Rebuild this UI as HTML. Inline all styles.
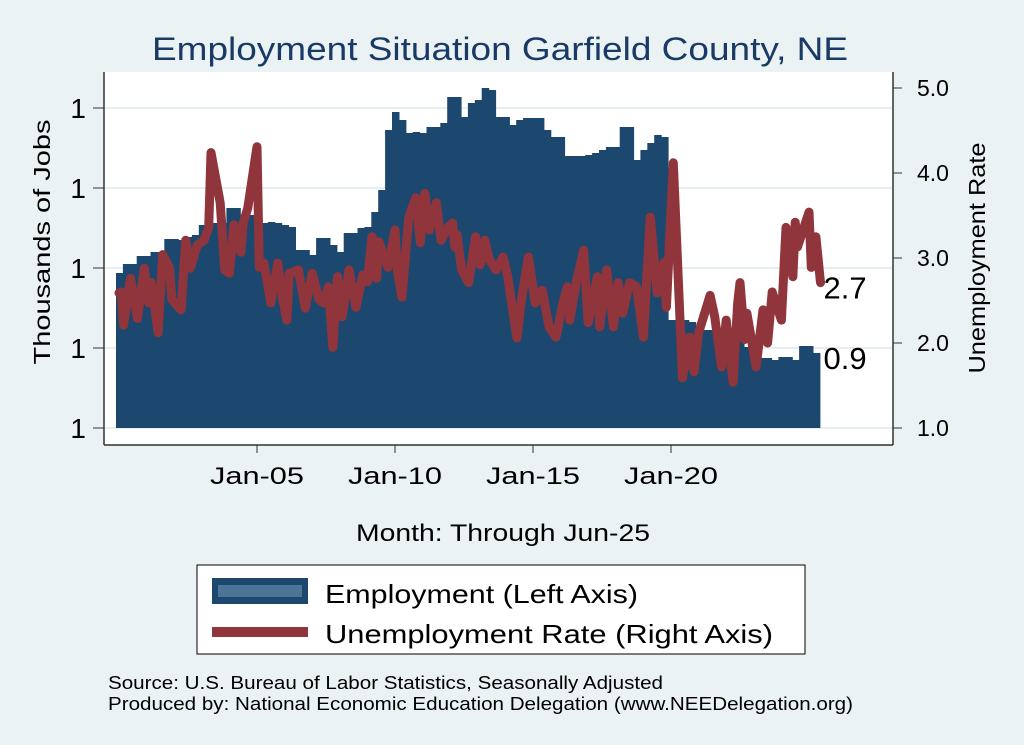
<!DOCTYPE html>
<html><head><meta charset="utf-8"><style>
html,body{margin:0;padding:0;background:#eaf2f3;}
svg{display:block;font-family:"Liberation Sans",Arial,sans-serif;}
</style></head><body>
<svg id="chart" width="1024" height="745" viewBox="0 0 1024 745">
<rect x="0" y="0" width="1024" height="745" fill="#eaf2f3"/>
<rect x="104" y="72" width="789" height="373" fill="#ffffff"/>
<text x="152" y="60" font-size="32" textLength="696" lengthAdjust="spacingAndGlyphs" fill="#1a3a66">Employment Situation Garfield  County, NE</text>
<g id="grid"></g>
<g id="bars"></g>
<g id="line"></g>
<g id="axes"></g>
<text x="50" y="242" text-anchor="middle" font-size="23" textLength="245" lengthAdjust="spacingAndGlyphs" transform="rotate(-90 50 242)" fill="#000">Thousands of Jobs</text>
<text x="985" y="258" text-anchor="middle" font-size="23" textLength="231" lengthAdjust="spacingAndGlyphs" transform="rotate(-90 985 258)" fill="#000">Unemployment Rate</text>
<text x="356" y="541" font-size="24" textLength="294" lengthAdjust="spacingAndGlyphs" fill="#000">Month: Through Jun-25</text>
<g>
<rect x="197" y="565" width="608" height="89" fill="#fff" stroke="#000" stroke-width="1"/>
<g>
<rect x="212" y="578" width="96" height="26" fill="#1c4870"/>
<rect x="218" y="585" width="84" height="12" fill="#4d7396"/>
<text x="325" y="603" font-size="26" textLength="313" lengthAdjust="spacingAndGlyphs" fill="#000">Employment (Left Axis)</text>
</g>
<g>
<rect x="212" y="627" width="96" height="10" fill="#90353b"/>
<text x="325" y="643" font-size="26" textLength="448" lengthAdjust="spacingAndGlyphs" fill="#000">Unemployment Rate (Right Axis)</text>
</g>
</g>
<text x="108" y="689" font-size="18" textLength="555" lengthAdjust="spacingAndGlyphs" fill="#000">Source: U.S. Bureau of Labor Statistics, Seasonally Adjusted</text>
<text x="108" y="710" font-size="18" textLength="745" lengthAdjust="spacingAndGlyphs" fill="#000">Produced by: National Economic Education Delegation (www.NEEDelegation.org)</text>
</svg>
<script>
// Employment (thousands), quarterly from 2000Q1 through 2025Q2
const empValues = [0.975,0.984,0.984,0.992,0.992,0.996,0.996,1.009,1.009,1.008,1.011,1.013,1.023,1.023,1.025,1.025,1.040,1.040,1.033,1.033,1.038,1.025,1.026,1.025,1.023,1.021,0.998,0.998,0.993,1.010,1.010,1.003,0.996,1.015,1.015,1.020,1.021,1.036,1.058,1.118,1.136,1.128,1.115,1.116,1.115,1.121,1.121,1.125,1.151,1.151,1.131,1.145,1.148,1.160,1.158,1.131,1.131,1.123,1.128,1.130,1.130,1.130,1.118,1.111,1.111,1.092,1.092,1.092,1.093,1.095,1.098,1.101,1.101,1.121,1.121,1.088,1.098,1.105,1.113,1.111,0.928,0.928,0.928,0.926,0.921,0.918,0.918,0.911,0.911,0.911,0.911,0.901,0.901,0.890,0.890,0.888,0.891,0.891,0.888,0.902,0.902,0.895];
// Unemployment rate: month index (0 = Jan 2000) and value
const urMonths = [0,1,2,5,8,9,11,13,14,17,19,22,23,27,29,31,34,37,39,40,44,46,48,50,53,54,56,60,61,63,66,69,71,73,74,78,81,84,87,89,91,93,95,97,100,103,106,108,110,112,113,117,120,121,123,126,129,131,133,135,138,140,143,145,146,147,149,152,155,157,159,161,164,167,169,173,175,178,181,184,187,190,193,195,196,199,202,204,208,209,212,215,217,219,222,225,228,231,234,237,238,241,245,248,250,252,257,259,262,264,267,269,270,272,273,277,280,282,284,288,290,293,294,295,300,301,303,305];
const urValues = [2.59,2.60,2.21,2.76,2.29,2.47,2.88,2.47,2.71,2.12,3.04,2.88,2.51,2.39,3.21,2.88,3.15,3.21,3.36,4.24,3.65,2.86,2.82,3.39,3.07,3.41,3.59,4.31,2.89,2.94,2.47,2.94,2.54,2.27,2.82,2.86,2.41,2.82,2.51,2.47,2.66,1.95,2.78,2.31,2.86,2.42,2.80,2.72,3.25,2.76,3.19,2.89,3.33,2.86,2.54,3.48,3.71,3.18,3.76,3.33,3.65,3.21,3.36,3.41,3.13,3.27,2.86,2.71,3.25,2.92,3.21,2.98,2.86,3.01,2.78,2.06,2.51,3.01,2.47,2.62,2.19,2.07,2.47,2.66,2.27,2.74,3.09,2.24,2.78,2.19,2.86,2.19,2.71,2.35,2.71,2.66,2.07,3.48,2.59,2.95,2.42,4.12,1.59,2.07,1.66,2.12,2.56,2.31,1.72,2.27,1.54,2.47,2.71,2.04,2.35,1.72,2.39,2.00,2.60,2.27,3.36,2.78,3.42,3.13,3.54,2.89,3.25,2.71];
const leftTicks = [0.82,0.90,0.98,1.06,1.14];
const rightTicks = [1.0,2.0,3.0,4.0,5.0];
const xTickMonths = [60,120,180,240];
const xTickLabels = ["Jan-05","Jan-10","Jan-15","Jan-20"];

const NS = "http://www.w3.org/2000/svg";
const X0 = 119, PX_PER_MONTH = 2.3;
const xScale = m => X0 + m * PX_PER_MONTH;
const yLeft = v => 428 - (v - 0.82) * 1000;
const yRight = v => 428 - (v - 1.0) * 85;
function mk(tag, attrs, parent){const e=document.createElementNS(NS,tag);for(const k in attrs)e.setAttribute(k,attrs[k]);parent.appendChild(e);return e;}

const grid = document.getElementById('grid');
const axes = document.getElementById('axes');
leftTicks.forEach(v => {
  const y = yLeft(v);
  const g = mk('line',{x1:104,x2:893,y1:y,y2:y,stroke:'#e6eef2','stroke-width':2},grid);
  
  
  const t = mk('line',{x1:93,x2:104,y1:y,y2:y,stroke:'#333','stroke-width':1},axes);
  
  
  const l = mk('text',{x:86,y:y+10,'text-anchor':'end','font-size':28,fill:'#000'},axes);
  l.textContent = v.toFixed(0);
  
  
});
rightTicks.forEach(v => {
  const y = yRight(v);
  const t = mk('line',{x1:893,x2:902,y1:y,y2:y,stroke:'#333','stroke-width':1},axes);
  
  
  const l = mk('text',{x:917,y:y+8,'font-size':23,fill:'#000'},axes);
  l.textContent = v.toFixed(1);
  
  
});
xTickMonths.forEach((m,i) => {
  const x = xScale(m);
  const t = mk('line',{x1:x,x2:x,y1:445,y2:453,stroke:'#333','stroke-width':1},axes);
  
  
  const l = mk('text',{x:x,y:484,'text-anchor':'middle','font-size':24,textLength:94,lengthAdjust:'spacingAndGlyphs',fill:'#000'},axes);
  l.textContent = xTickLabels[i];
  
  
});
mk('line',{x1:104,x2:104,y1:72,y2:445,stroke:'#333','stroke-width':1.5},axes);
mk('line',{x1:893,x2:893,y1:72,y2:445,stroke:'#333','stroke-width':1.5},axes);
mk('line',{x1:104,x2:893,y1:445,y2:445,stroke:'#333','stroke-width':1.5},axes);

const bars = document.getElementById('bars');
empValues.forEach((v,i) => {
  const xa = xScale(i*3) - 3, xb = xScale(i*3+3) - 3;
  const y = yLeft(v);
  const r = mk('rect',{x:Math.max(xa,114),y:y,width:xb-Math.max(xa,114)+0.6,height:428-y,fill:'#1c4870'},bars);
  
  
});

const lineG = document.getElementById('line');
const pts = urMonths.map((m,i) => xScale(m).toFixed(1)+','+yRight(urValues[i]).toFixed(1)).join(' ');
const pl = mk('polyline',{points:pts,fill:'none',stroke:'#90353b','stroke-width':9,'stroke-linejoin':'round','stroke-linecap':'round'},lineG);



const lastU = urValues[urValues.length-1], lastE = empValues[empValues.length-1];
const lu = mk('text',{x:xScale(urMonths[urMonths.length-1])+3,y:yRight(lastU)+16,'font-size':31,fill:'#000'},axes);
lu.textContent = lastU.toFixed(1);


const le = mk('text',{x:xScale(305)+3,y:yLeft(lastE)+16,'font-size':31,fill:'#000'},axes);
le.textContent = lastE.toFixed(1);


</script>
</body></html>
